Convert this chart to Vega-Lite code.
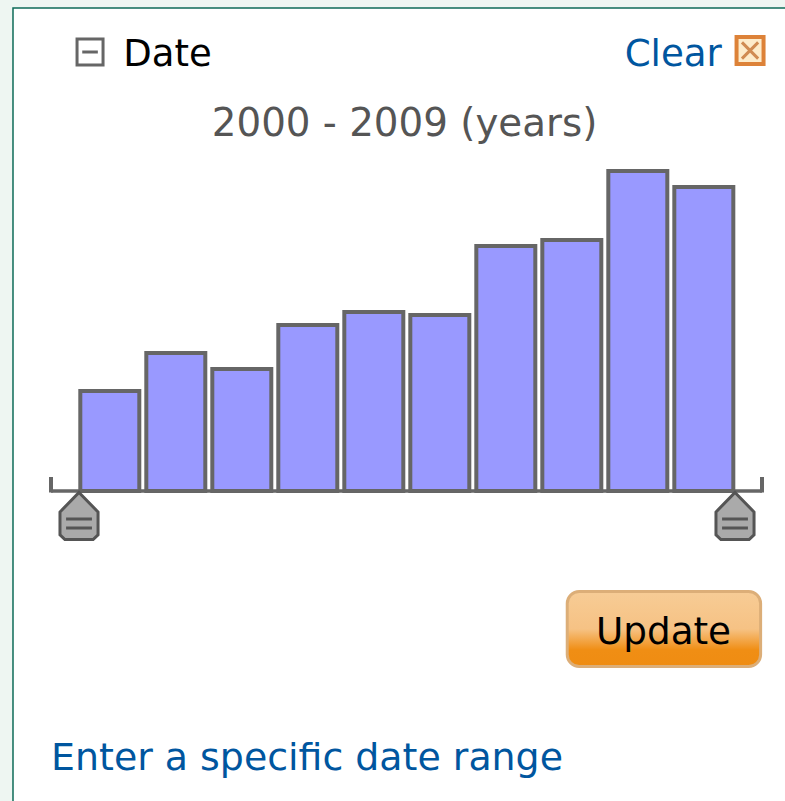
{
"$schema":"https://vega.github.io/schema/vega-lite/v6.json",
"width":711,"height":320,
"autosize":"none",
"padding":{"left":51,"top":171,"right":23,"bottom":310},
"background":"#eef6f2",
"view":{"stroke":null},
"config":{"text":{"font":"DejaVu Sans"}},
"layer":[
{"data":{"values":[{}]},"mark":{"type":"rect","fill":"#ffffff","stroke":"#0e6b58","strokeWidth":1.5},
 "encoding":{"x":{"datum":1998.5227,"type":"quantitative","scale":{"domain":[1999.0985,2009.871],"nice":false,"zero":false,"padding":0},"axis":null},"x2":{"datum":2010.6},"y":{"datum":483,"type":"quantitative","scale":{"domain":[0,320],"nice":false},"axis":null},"y2":{"datum":-330}}},
{"data":{"values":[
{"year":2000,"count":100},{"year":2001,"count":138},{"year":2002,"count":122},{"year":2003,"count":166},{"year":2004,"count":179},{"year":2005,"count":176},{"year":2006,"count":245},{"year":2007,"count":251},{"year":2008,"count":320},{"year":2009,"count":304}]},
 "mark":{"type":"bar","size":59,"xOffset":-0.7,"fill":"#9999ff","stroke":"#666666","strokeWidth":4,"clip":false},
 "encoding":{"x":{"field":"year","type":"quantitative"},"y":{"field":"count","type":"quantitative"}}},
{"data":{"values":[{}]},"mark":{"type":"rule","stroke":"#666666","strokeWidth":3.5},
 "encoding":{"x":{"datum":1999.0985,"type":"quantitative"},"x2":{"datum":2009.871},"y":{"datum":0,"type":"quantitative"}}},
{"data":{"values":[{}]},"mark":{"type":"rule","stroke":"#666666","strokeWidth":4},
 "encoding":{"x":{"datum":1999.0985,"type":"quantitative"},"y":{"datum":14,"type":"quantitative"},"y2":{"datum":-1.5}}},
{"data":{"values":[{}]},"mark":{"type":"rule","stroke":"#666666","strokeWidth":4},
 "encoding":{"x":{"datum":2009.871,"type":"quantitative"},"y":{"datum":14,"type":"quantitative"},"y2":{"datum":-1.5}}},
{"data":{"values":[{}]},"mark":{"type":"point","filled":true,"fill":"#aaaaaa","stroke":"#555555","strokeWidth":3,"opacity":1,"size":2209,"shape":"M0,-1L0.81,-0.17L0.81,0.8L0.6,1L-0.6,1L-0.81,0.8L-0.81,-0.17Z"},
 "encoding":{"x":{"datum":1999.523,"type":"quantitative"},"y":{"datum":-25,"type":"quantitative"}}},
{"data":{"values":[{}]},"mark":{"type":"point","filled":false,"stroke":"#555555","strokeWidth":3,"opacity":1,"size":2209,"shape":"M-0.55,0.13L0.55,0.13M-0.55,0.51L0.55,0.51"},
 "encoding":{"x":{"datum":1999.523,"type":"quantitative"},"y":{"datum":-25,"type":"quantitative"}}},
{"data":{"values":[{}]},"mark":{"type":"point","filled":true,"fill":"#aaaaaa","stroke":"#555555","strokeWidth":3,"opacity":1,"size":2209,"shape":"M0,-1L0.81,-0.17L0.81,0.8L0.6,1L-0.6,1L-0.81,0.8L-0.81,-0.17Z"},
 "encoding":{"x":{"datum":2009.462,"type":"quantitative"},"y":{"datum":-25,"type":"quantitative"}}},
{"data":{"values":[{}]},"mark":{"type":"point","filled":false,"stroke":"#555555","strokeWidth":3,"opacity":1,"size":2209,"shape":"M-0.55,0.13L0.55,0.13M-0.55,0.51L0.55,0.51"},
 "encoding":{"x":{"datum":2009.462,"type":"quantitative"},"y":{"datum":-25,"type":"quantitative"}}},
{"data":{"values":[{}]},"mark":{"type":"point","filled":true,"fill":"#ffffff","stroke":"#666666","strokeWidth":3,"opacity":1,"size":676,"shape":"M-1,-1L1,-1L1,1L-1,1Z"},
 "encoding":{"x":{"datum":1999.69,"type":"quantitative"},"y":{"datum":439,"type":"quantitative"}}},
{"data":{"values":[{}]},"mark":{"type":"point","filled":false,"stroke":"#666666","strokeWidth":3,"opacity":1,"size":676,"shape":"M-0.6,0L0.6,0"},
 "encoding":{"x":{"datum":1999.69,"type":"quantitative"},"y":{"datum":439,"type":"quantitative"}}},
{"data":{"values":[{}]},"mark":{"type":"point","filled":true,"fill":"#fdeccb","stroke":"#dd8238","strokeWidth":4,"opacity":1,"size":729,"shape":"M-1,-1L1,-1L1,1L-1,1Z"},
 "encoding":{"x":{"datum":2009.69,"type":"quantitative"},"y":{"datum":440.5,"type":"quantitative"}}},
{"data":{"values":[{}]},"mark":{"type":"point","filled":false,"stroke":"#c97b3d","strokeWidth":3,"opacity":0.85,"size":729,"shape":"M-0.6,-0.6L0.6,0.6M-0.6,0.6L0.6,-0.6"},
 "encoding":{"x":{"datum":2009.69,"type":"quantitative"},"y":{"datum":440.5,"type":"quantitative"}}},
{"data":{"values":[{}]},"mark":{"type":"rect","cornerRadius":12,"stroke":"#dcae78","strokeWidth":3,"fill":{"gradient":"linear","x1":0,"y1":0,"x2":0,"y2":1,"stops":[{"offset":0,"color":"#f7cc96"},{"offset":0.5,"color":"#f6c284"},{"offset":0.78,"color":"#f08e14"},{"offset":1,"color":"#ef8c12"}]}},
 "encoding":{"x":{"datum":2006.92,"type":"quantitative"},"x2":{"datum":2009.85},"y":{"datum":-100.5,"type":"quantitative"},"y2":{"datum":-175.5}}},
{"data":{"values":[{"label":"Date"}]},"mark":{"type":"text","fontSize":37,"align":"left","baseline":"alphabetic","fill":"#000000"},
 "encoding":{"text":{"field":"label"},"x":{"datum":2000.195,"type":"quantitative"},"y":{"datum":425,"type":"quantitative"}}},
{"data":{"values":[{"label":"Clear"}]},"mark":{"type":"text","fontSize":37.2,"align":"left","baseline":"alphabetic","fill":"#00569f"},
 "encoding":{"text":{"field":"label"},"x":{"datum":2007.79,"type":"quantitative"},"y":{"datum":425,"type":"quantitative"}}},
{"data":{"values":[{"label":"2000 - 2009 (years)"}]},"mark":{"type":"text","fontSize":38.8,"align":"center","baseline":"alphabetic","fill":"#555555"},
 "encoding":{"text":{"field":"label"},"x":{"datum":2004.455,"type":"quantitative"},"y":{"datum":355.5,"type":"quantitative"}}},
{"data":{"values":[{"label":"Update"}]},"mark":{"type":"text","fontSize":37.3,"align":"center","baseline":"alphabetic","fill":"#000000"},
 "encoding":{"text":{"field":"label"},"x":{"datum":2008.379,"type":"quantitative"},"y":{"datum":-153,"type":"quantitative"}}},
{"data":{"values":[{"label":"Enter a specific date range"}]},"mark":{"type":"text","fontSize":37.9,"align":"left","baseline":"alphabetic","fill":"#00569f"},
 "encoding":{"text":{"field":"label"},"x":{"datum":1999.1,"type":"quantitative"},"y":{"datum":-279,"type":"quantitative"}}}
]
}
